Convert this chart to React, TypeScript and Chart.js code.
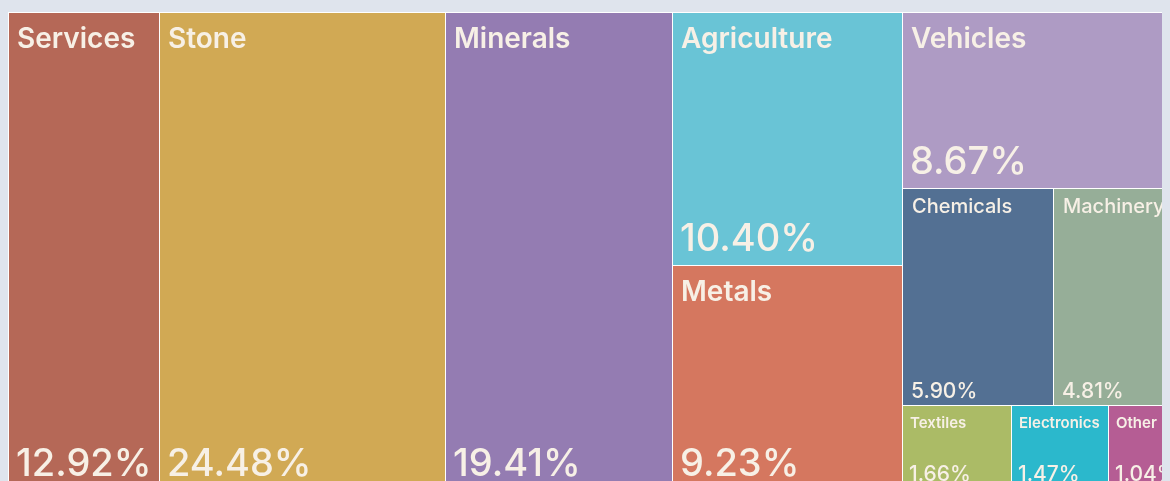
import React, { useEffect, useRef } from "react";
import { Chart, registerables } from "chart.js";

Chart.register(...registerables);

// ---- data ----
const categories = [
  "Services",
  "Stone",
  "Minerals",
  "Agriculture",
  "Metals",
  "Vehicles",
  "Chemicals",
  "Machinery",
  "Textiles",
  "Electronics",
  "Other",
];
const shares = [12.92, 24.48, 19.41, 10.4, 9.23, 8.67, 5.9, 4.81, 1.66, 1.47, 1.04];
// treemap hierarchy: which column block and which row (within the block) each category belongs to
const columnGroup = [0, 1, 2, 3, 3, 4, 4, 4, 4, 4, 4];
const rowGroup = [0, 0, 0, 0, 1, 0, 1, 1, 2, 2, 2];

const colors = [
  "#b56857",
  "#d1a954",
  "#947cb2",
  "#69c4d6",
  "#d5775f",
  "#ae9bc4",
  "#537093",
  "#96ae98",
  "#abbb66",
  "#2bb8cc",
  "#b55d94",
];
const TEXT = "#f7f0e6";
const FONT = "Inter, 'Open Sans', sans-serif";

type Cell = { i: number; x0: number; x1: number; y0: number; y1: number };

function computeCells(): Cell[] {
  const total = shares.reduce((a, b) => a + b, 0);
  const cols: number[] = [];
  columnGroup.forEach((c) => {
    if (!cols.includes(c)) cols.push(c);
  });
  const cells: Cell[] = [];
  let x = 0;
  for (const col of cols) {
    const idx = categories.map((_, i) => i).filter((i) => columnGroup[i] === col);
    const colSum = idx.reduce((a, i) => a + shares[i], 0);
    const w = (colSum / total) * 100;
    const rows: number[] = [];
    idx.forEach((i) => {
      if (!rows.includes(rowGroup[i])) rows.push(rowGroup[i]);
    });
    let y = 0;
    for (const row of rows) {
      const ridx = idx.filter((i) => rowGroup[i] === row);
      const rowSum = ridx.reduce((a, i) => a + shares[i], 0);
      const h = (rowSum / colSum) * 100;
      let xx = x;
      for (const i of ridx) {
        const ww = (shares[i] / rowSum) * w;
        cells.push({ i, x0: xx, x1: xx + ww, y0: y, y1: y + h });
        xx += ww;
      }
      y += h;
    }
    x += w;
  }
  return cells;
}

const treemapPlugin = {
  id: "treemapCells",
  afterDatasetsDraw(chart: any) {
    const { ctx, chartArea, scales } = chart;
    const xs = scales.x;
    const ys = scales.y;
    const cells = computeCells();
    ctx.save();
    ctx.fillStyle = "#ffffff";
    ctx.fillRect(chartArea.left, chartArea.top, chartArea.right - chartArea.left, chartArea.bottom - chartArea.top);
    for (const c of cells) {
      const left = Math.round(xs.getPixelForValue(c.x0));
      const right = Math.round(xs.getPixelForValue(c.x1));
      const top = Math.round(ys.getPixelForValue(c.y0));
      const bottom = Math.round(ys.getPixelForValue(c.y1));
      const l = left + 1;
      const t = top + 1;
      const w = right - l;
      const h = bottom - t;
      ctx.fillStyle = colors[c.i];
      ctx.fillRect(l, t, w, h);

      const share = shares[c.i];
      let nameSize, pctSize, nameOff, pctOff, padX, nameWeight, pctWeight;
      if (share >= 8) {
        nameSize = 28; pctSize = 38; nameOff = 35; pctOff = 14; padX = 8; nameWeight = 600; pctWeight = 500;
      } else if (share >= 4) {
        nameSize = 20; pctSize = 21; nameOff = 24; pctOff = 7; padX = 9; nameWeight = 500; pctWeight = 500;
      } else {
        nameSize = 15; pctSize = 21; nameOff = 22; pctOff = 9; padX = 7; nameWeight = 600; pctWeight = 500;
      }
      ctx.save();
      ctx.beginPath();
      ctx.rect(l, t, w, h);
      ctx.clip();
      ctx.fillStyle = TEXT;
      ctx.textAlign = "left";
      ctx.textBaseline = "alphabetic";
      ctx.font = `${nameWeight} ${nameSize}px ${FONT}`;
      ctx.fillText(categories[c.i], l + padX, t + nameOff);
      ctx.font = `${pctWeight} ${pctSize}px ${FONT}`;
      ctx.fillText(share.toFixed(2) + "%", l + padX - 1, bottom - pctOff);
      ctx.restore();
    }
    ctx.restore();
  },
};

export default function App() {
  const ref = useRef<HTMLCanvasElement | null>(null);
  useEffect(() => {
    document.body.style.background = "#dfe4ed";
    document.documentElement.style.overflow = "hidden";
    document.body.style.overflow = "hidden";
    if (!ref.current) return;
    const cells = computeCells();
    const chart = new Chart(ref.current, {
      type: "scatter",
      data: {
        datasets: [
          {
            label: "Share",
            data: cells.map((c) => ({ x: (c.x0 + c.x1) / 2, y: (c.y0 + c.y1) / 2 })),
            pointRadius: 0,
            pointHoverRadius: 0,
          },
        ],
      },
      options: {
        responsive: false,
        animation: false,
        events: [],
        layout: { padding: { top: 4, right: 1, left: 0, bottom: 0 } },
        scales: {
          x: { type: "linear", min: 0, max: 100, display: false },
          y: { type: "linear", min: 0, max: 100, reverse: true, display: false },
        },
        plugins: { legend: { display: false }, tooltip: { enabled: false } },
      },
      plugins: [treemapPlugin],
    });
    return () => chart.destroy();
  }, []);
  return (
    <div style={{ width: 1170, height: 482 }}>
      <canvas ref={ref} width={1170} height={482} style={{ display: "block" }} />
    </div>
  );
}
